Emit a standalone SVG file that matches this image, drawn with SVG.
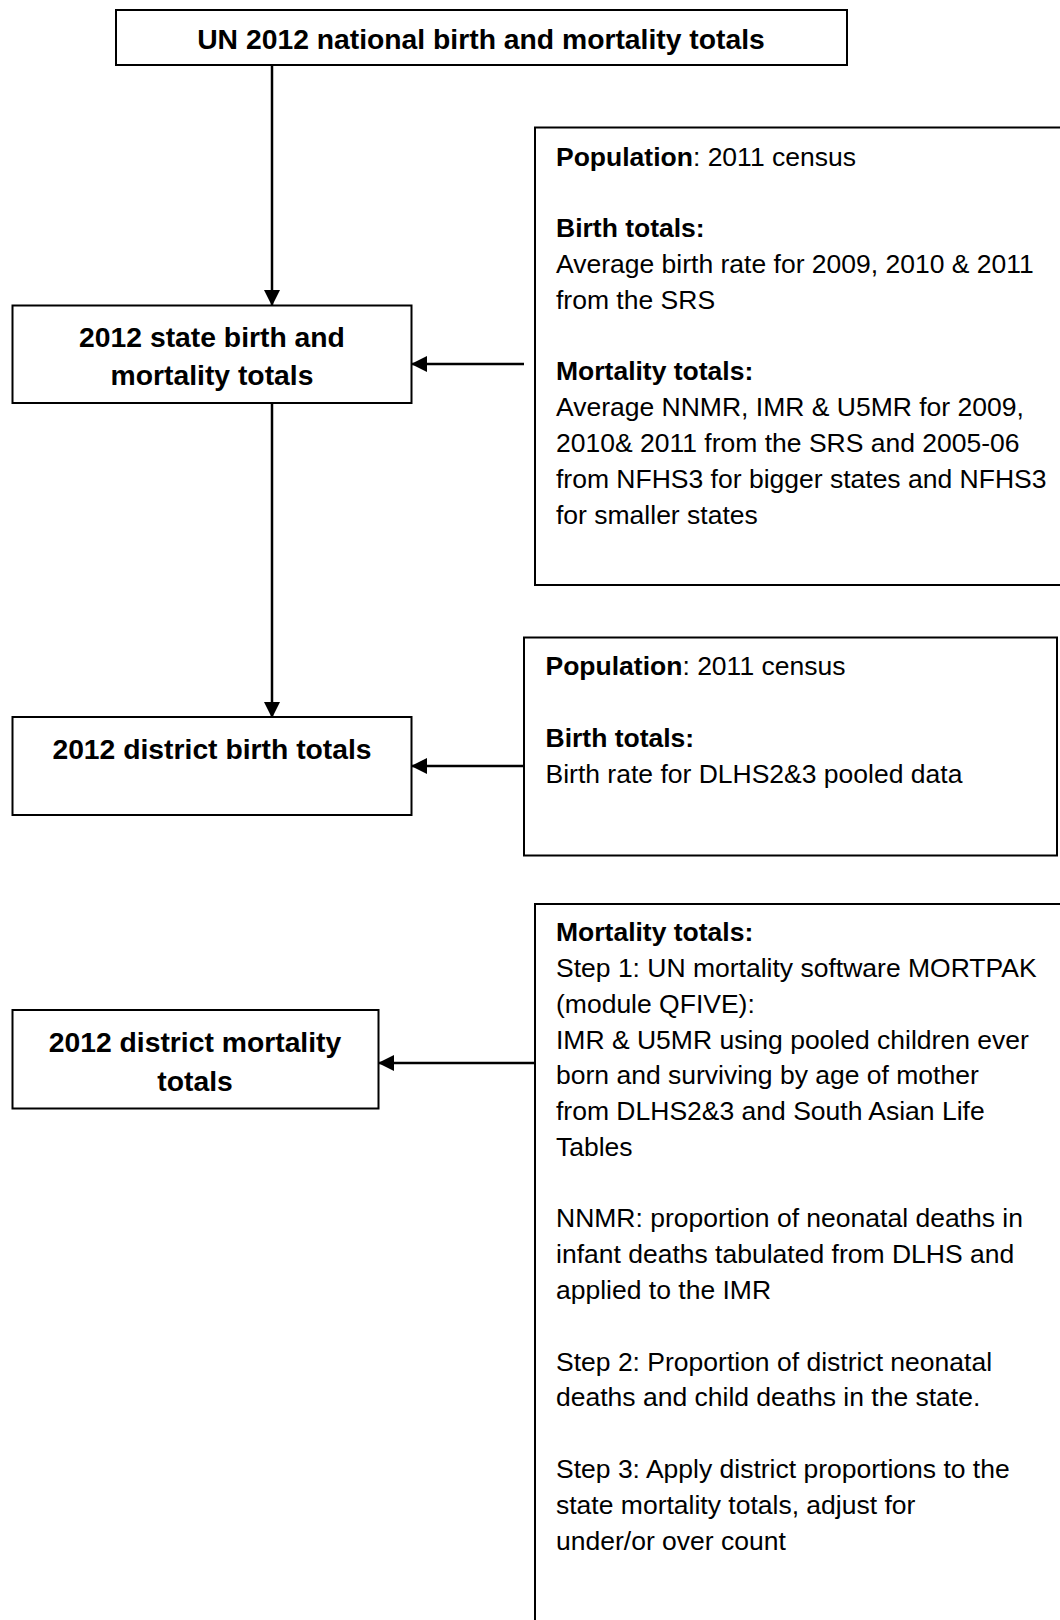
<svg xmlns="http://www.w3.org/2000/svg" width="1060" height="1620" viewBox="0 0 1060 1620">
<defs>
<style>
.box{fill:#fff;stroke:#000;stroke-width:2}
.lbl{font-family:"Liberation Sans",Arial,sans-serif;font-size:28.3px;font-weight:bold;fill:#000;text-anchor:middle}
.txt{font-family:"Liberation Sans",Arial,sans-serif;font-size:26.5px;fill:#000}
.b{font-weight:bold}
.con{stroke:#000;stroke-width:2.5;fill:none;marker-end:url(#ah)}
</style>
<marker id="ah" markerUnits="userSpaceOnUse" markerWidth="16" markerHeight="16" viewBox="0 0 16 16" refX="15" refY="8" orient="auto">
<path d="M0,0 L16,8 L0,16 z" fill="#000"/>
</marker>
</defs>
<rect width="1060" height="1620" fill="#fff"/>

<g id="connectors">
<line class="con" x1="272" y1="65" x2="272" y2="305"/>
<line class="con" x1="524" y1="364" x2="412" y2="364"/>
<line class="con" x1="272" y1="403" x2="272" y2="717"/>
<line class="con" x1="524" y1="766" x2="412" y2="766"/>
<line class="con" x1="535" y1="1063" x2="379" y2="1063"/>
</g>

<g id="n_national">
<rect class="box" x="116" y="10" width="731" height="55"/>
<text class="lbl" x="481" y="49">UN 2012 national birth and mortality totals</text>
</g>

<g id="n_state">
<rect class="box" x="12.5" y="305.5" width="399" height="97.5"/>
<text class="lbl" x="212" y="347">2012 state birth and</text>
<text class="lbl" x="212" y="385">mortality totals</text>
</g>

<g id="n_state_src">
<rect class="box" x="535" y="127.5" width="540" height="457.5"/>
<text class="txt" x="556" y="165.5"><tspan class="b">Population</tspan>: 2011 census</text>
<text class="txt b" x="556" y="237">Birth totals:</text>
<text class="txt" x="556" y="273">Average birth rate for 2009, 2010 &amp; 2011</text>
<text class="txt" x="556" y="309">from the SRS</text>
<text class="txt b" x="556" y="380">Mortality totals:</text>
<text class="txt" x="556" y="416">Average NNMR, IMR &amp; U5MR for 2009,</text>
<text class="txt" x="556" y="452">2010&amp; 2011 from the SRS and 2005-06</text>
<text class="txt" x="556" y="488">from NFHS3 for bigger states and NFHS3</text>
<text class="txt" x="556" y="523.5">for smaller states</text>
</g>

<g id="n_district_birth">
<rect class="box" x="12.5" y="717" width="399" height="98"/>
<text class="lbl" x="212" y="759">2012 district birth totals</text>
</g>

<g id="n_district_birth_src">
<rect class="box" x="524" y="637.5" width="533" height="218"/>
<text class="txt" x="545.5" y="674.5"><tspan class="b">Population</tspan>: 2011 census</text>
<text class="txt b" x="545.5" y="747">Birth totals:</text>
<text class="txt" x="545.5" y="783">Birth rate for DLHS2&amp;3 pooled data</text>
</g>

<g id="n_district_mort">
<rect class="box" x="12.5" y="1010" width="366" height="98.5"/>
<text class="lbl" x="195" y="1052">2012 district mortality</text>
<text class="lbl" x="195" y="1091">totals</text>
</g>

<g id="n_district_mort_src">
<rect class="box" x="535" y="904" width="540" height="740"/>
<text class="txt b" x="556" y="941">Mortality totals:</text>
<text class="txt" x="556" y="977">Step 1: UN mortality software MORTPAK</text>
<text class="txt" x="556" y="1012.5">(module QFIVE):</text>
<text class="txt" x="556" y="1048.5">IMR &amp; U5MR using pooled children ever</text>
<text class="txt" x="556" y="1084">born and surviving by age of mother</text>
<text class="txt" x="556" y="1120">from DLHS2&amp;3 and South Asian Life</text>
<text class="txt" x="556" y="1156">Tables</text>
<text class="txt" x="556" y="1227">NNMR: proportion of neonatal deaths in</text>
<text class="txt" x="556" y="1263">infant deaths tabulated from DLHS and</text>
<text class="txt" x="556" y="1299">applied to the IMR</text>
<text class="txt" x="556" y="1370.5">Step 2: Proportion of district neonatal</text>
<text class="txt" x="556" y="1406">deaths and child deaths in the state.</text>
<text class="txt" x="556" y="1478">Step 3: Apply district proportions to the</text>
<text class="txt" x="556" y="1514">state mortality totals, adjust for</text>
<text class="txt" x="556" y="1549.5">under/or over count</text>
</g>
</svg>
